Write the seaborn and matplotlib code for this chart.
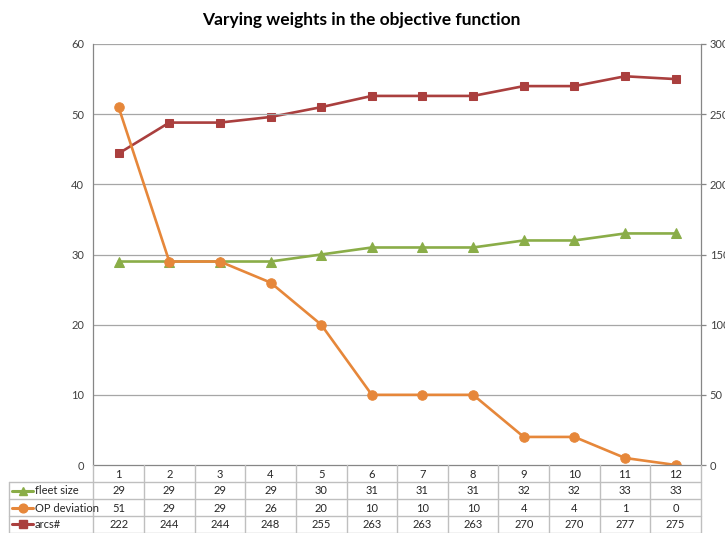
import matplotlib
matplotlib.use("Agg")
import matplotlib.pyplot as plt
from matplotlib.lines import Line2D
import seaborn as sns
import pandas as pd

# ---- data ----
categories = [1, 2, 3, 4, 5, 6, 7, 8, 9, 10, 11, 12]
fleet_size = [29, 29, 29, 29, 30, 31, 31, 31, 32, 32, 33, 33]
op_deviation = [51, 29, 29, 26, 20, 10, 10, 10, 4, 4, 1, 0]
arcs = [222, 244, 244, 248, 255, 263, 263, 263, 270, 270, 277, 275]
series_names = ["fleet size", "OP deviation", "arcs#"]
left_ticks = [0, 10, 20, 30, 40, 50, 60]
right_ticks = [0, 50, 100, 150, 200, 250, 300]
title = "Varying weights in the objective function"

GREEN = "#8AAD48"
ORANGE = "#E6873A"
RED = "#AA3F3E"
GRID = "#A6A6A6"
AXC = "#868686"
TBL = "#BFBFBF"

sns.set_theme(style="white")
plt.rcParams["font.family"] = ["Lato", "DejaVu Sans"]

W, H = 725, 533
fig = plt.figure(figsize=(W / 100, H / 100), dpi=100)

x0, x1, ytop, ybot = 93.3, 701.0, 44.0, 465.0
ax = fig.add_axes([x0 / W, 1 - ybot / H, (x1 - x0) / W, (ybot - ytop) / H])
ax2 = ax.twinx()

df = pd.DataFrame({"cat": categories, "fleet": fleet_size, "op": op_deviation, "arcs": arcs})

lw = 1.9
sns.lineplot(data=df, x="cat", y="fleet", ax=ax, color=GREEN, marker="^", markersize=7,
             markeredgecolor=GREEN, linewidth=lw, zorder=3)
sns.lineplot(data=df, x="cat", y="op", ax=ax, color=ORANGE, marker="o", markersize=6.8,
             markeredgecolor=ORANGE, linewidth=lw, zorder=4)
sns.lineplot(data=df, x="cat", y="arcs", ax=ax2, color=RED, marker="s", markersize=6.3,
             markeredgecolor=RED, linewidth=lw, zorder=3)

ax.set_xlim(0.5, 12.5)
ax.set_ylim(0, 60)
ax2.set_ylim(0, 300)
ax.set_yticks(left_ticks)
ax2.set_yticks(right_ticks)
ax.set_xticks([])
ax2.set_xticks([])
ax.set_xlabel("")
ax.set_ylabel("")
ax2.set_ylabel("")

for v in left_ticks[1:]:
    ax.axhline(v, color=GRID, linewidth=0.9, zorder=0)

for a in (ax, ax2):
    for s in a.spines.values():
        s.set_visible(False)
ax.spines["left"].set_visible(True)
ax.spines["left"].set_color(AXC)
ax.spines["left"].set_linewidth(0.9)
ax2.spines["right"].set_visible(True)
ax2.spines["right"].set_color(AXC)
ax2.spines["right"].set_linewidth(0.9)

ax.tick_params(axis="y", length=0, pad=6.5, labelsize=8, labelcolor="#404040")
ax2.tick_params(axis="y", length=3.8, width=0.9, color=AXC, direction="out", pad=2.5,
                labelsize=8, labelcolor="#404040")
ax.set_zorder(ax2.get_zorder() + 1)
ax.patch.set_visible(False)

fig.text(361.5 / W, 1 - 19.5 / H, title, ha="center", va="center",
         fontsize=12.5, fontweight="bold", color="#000000")

# ---- data table below ----
def fx(px):
    return px / W

def fy(py):
    return 1 - py / H

def hline(xa, xb, y, c=TBL, lw_=1.0):
    fig.add_artist(Line2D([fx(xa), fx(xb)], [fy(y), fy(y)], color=c, linewidth=lw_))

def vline(x, ya, yb, c=TBL, lw_=1.0):
    fig.add_artist(Line2D([fx(x), fx(x)], [fy(ya), fy(yb)], color=c, linewidth=lw_))

row_y = [465.0, 482.0, 499.0, 516.0, 532.5]
lab_left = 9.0
colw = (x1 - x0) / len(categories)

hline(x0, x1, row_y[0], c=AXC, lw_=0.9)
for y in row_y[1:]:
    hline(lab_left, x1, y)
vline(lab_left, row_y[1], row_y[-1])
vline(x0, row_y[0], row_y[-1], c=TBL)
for i in range(1, len(categories) + 1):
    vline(x0 + i * colw, row_y[0], row_y[-1])

rows = [fleet_size, op_deviation, arcs]
colors = [GREEN, ORANGE, RED]
markers = ["^", "o", "s"]
msz = [6, 6.3, 5.8]

for i, c in enumerate(categories):
    cx = x0 + (i + 0.5) * colw
    fig.text(fx(cx), fy((row_y[0] + row_y[1]) / 2 + 0.5), str(c), ha="center", va="center",
             fontsize=8, color="#262626")
    for r, vals in enumerate(rows):
        cy = (row_y[r + 1] + row_y[r + 2]) / 2 + 0.5
        fig.text(fx(cx), fy(cy), str(vals[i]), ha="center", va="center",
                 fontsize=8, color="#262626")

for r, name in enumerate(series_names):
    cy = (row_y[r + 1] + row_y[r + 2]) / 2
    fig.add_artist(Line2D([fx(12), fx(33)], [fy(cy), fy(cy)], color=colors[r], linewidth=2.2))
    fig.add_artist(Line2D([fx(22.5)], [fy(cy)], color=colors[r], marker=markers[r],
                          markersize=msz[r], markeredgecolor=colors[r], linestyle="none"))
    fig.text(fx(35), fy(cy + 0.5), name, ha="left", va="center", fontsize=8, color="#262626")

fig.savefig("out.png", dpi=100)
